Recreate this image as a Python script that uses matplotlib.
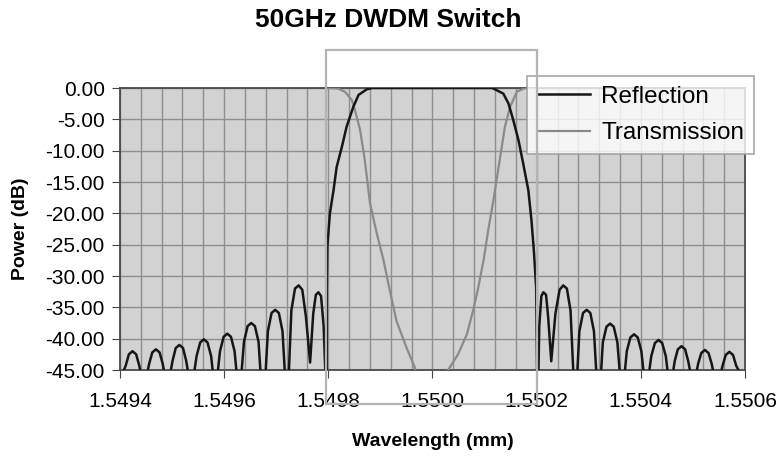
import numpy as np
import matplotlib
matplotlib.use('Agg')
import matplotlib.pyplot as plt
from matplotlib.patches import Rectangle
from matplotlib.ticker import MultipleLocator, FormatStrFormatter

plt.rcParams['font.family'] = ['Liberation Sans', 'DejaVu Sans']
plt.rcParams['axes.unicode_minus'] = False

# Reflection trace (wavelength, dB): left side lobes, passband, right side lobes
reflWave = [1.549400,
            1.549411, 1.549417, 1.549424, 1.549431, 1.549437, 1.549446,
            1.549456, 1.549462, 1.549469, 1.549476, 1.549482, 1.549491,
            1.549501, 1.549507, 1.549514, 1.549521, 1.549527, 1.549537,
            1.549547, 1.549554, 1.549561, 1.549568, 1.549575, 1.549583,
            1.549592, 1.549599, 1.549606, 1.549613, 1.549620, 1.549629,
            1.549638, 1.549645, 1.549652, 1.549659, 1.549666, 1.549675,
            1.549684, 1.549691, 1.549698, 1.549705, 1.549712, 1.549721,
            1.549729, 1.549736, 1.549743, 1.549750, 1.549757, 1.549765,
            1.549771, 1.549776, 1.549781, 1.549786, 1.549791, 1.549795,
            1.549797, 1.549797, 1.549798, 1.549803, 1.549810, 1.549816, 1.549826,
            1.549835, 1.549848, 1.549858, 1.549874, 1.549885,
            1.550115, 1.550136, 1.550146, 1.550155, 1.550165, 1.550174, 1.550184,
            1.550190, 1.550195, 1.550199, 1.550201, 1.550203,
            1.550205, 1.550209, 1.550213, 1.550218, 1.550222, 1.550228,
            1.550236, 1.550244, 1.550251, 1.550258, 1.550265, 1.550274,
            1.550282, 1.550289, 1.550296, 1.550303, 1.550310, 1.550319,
            1.550327, 1.550334, 1.550341, 1.550348, 1.550355, 1.550364,
            1.550373, 1.550380, 1.550387, 1.550394, 1.550401, 1.550410,
            1.550420, 1.550427, 1.550434, 1.550441, 1.550448, 1.550456,
            1.550465, 1.550471, 1.550478, 1.550485, 1.550491, 1.550501,
            1.550510, 1.550516, 1.550523, 1.550530, 1.550536, 1.550546,
            1.550557, 1.550563, 1.550570, 1.550577, 1.550583, 1.550600]
reflPower = [-46.5,
             -44.3, -42.5, -42.0, -42.5, -44.3, -48.0,
             -44.0, -42.2, -41.7, -42.2, -44.0, -48.0,
             -43.5, -41.5, -41.0, -41.5, -43.5, -48.5,
             -42.8, -40.6, -40.1, -40.6, -42.8, -49.0,
             -42.0, -39.7, -39.2, -39.7, -42.0, -50.0,
             -40.5, -38.0, -37.5, -38.0, -40.5, -52.0,
             -38.8, -35.9, -35.4, -35.9, -38.8, -52.0,
             -35.5, -32.0, -31.5, -32.2, -36.5, -43.8,
             -36.0, -33.0, -32.6, -33.2, -38.0, -47.0,
             -47.0, -32.0, -25.4, -20.0, -16.3, -12.6, -9.4,
             -6.2, -3.0, -1.1, -0.2, 0.0,
             0.0, -0.9, -2.5, -5.1, -8.3, -12.0, -16.3,
             -21.1, -26.4, -31.9, -47.0, -47.0,
             -38.0, -33.2, -32.6, -33.0, -36.5, -43.6,
             -36.0, -32.2, -31.5, -32.0, -35.5, -52.0,
             -38.8, -35.9, -35.4, -35.9, -38.8, -52.0,
             -40.6, -38.1, -37.6, -38.1, -40.6, -50.0,
             -42.0, -39.8, -39.3, -39.8, -42.0, -49.0,
             -42.8, -40.7, -40.2, -40.7, -42.8, -48.5,
             -43.6, -41.7, -41.2, -41.7, -43.6, -48.0,
             -44.0, -42.3, -41.8, -42.3, -44.0, -48.0,
             -44.3, -42.6, -42.1, -42.6, -44.3, -47.0]

# Transmission trace (wavelength, dB)
transWave = [1.549800, 1.549819, 1.549832, 1.549845, 1.549851, 1.549861, 1.549870,
             1.549880, 1.549893, 1.549906, 1.549918, 1.549931, 1.549950, 1.549966,
             1.549985, 1.550000, 1.550015, 1.550030, 1.550049, 1.550066, 1.550078,
             1.550088, 1.550098, 1.550107, 1.550117, 1.550123, 1.550133, 1.550139,
             1.550149, 1.550162, 1.550178, 1.550200]
transPower = [0.0, -0.1, -0.6, -1.9, -3.5, -6.7, -11.5,
              -18.4, -23.2, -27.5, -32.3, -37.2, -41.4, -44.6,
              -50.0, -55.0, -50.0, -45.0, -42.5, -39.3, -35.5,
              -31.8, -27.5, -22.7, -17.9, -14.7, -9.4, -6.2,
              -3.0, -0.6, 0.0, 0.0]

seriesNames = ['Reflection', 'Transmission']
xTicks = [1.5494, 1.5496, 1.5498, 1.5500, 1.5502, 1.5504, 1.5506]

W, H = 776, 461
fig = plt.figure(figsize=(W/100, H/100), dpi=100)
ax = fig.add_axes([120/W, 1-370/H, 625/W, 282/H])   # plot area in pixels
ax.set_facecolor('#d2d2d2')

ax.plot(reflWave, reflPower, color='#161616', lw=1.8, label=seriesNames[0], zorder=4)
ax.plot(transWave, transPower, color='#8a8a8a', lw=1.6, label=seriesNames[1], zorder=3)

ax.set_xlim(1.5494, 1.5506)
ax.set_ylim(-45, 0)
ax.set_xticks(xTicks)
ax.xaxis.set_minor_locator(MultipleLocator(0.00004))
ax.yaxis.set_major_locator(MultipleLocator(5))
ax.xaxis.set_major_formatter(FormatStrFormatter('%.4f'))
ax.yaxis.set_major_formatter(FormatStrFormatter('%.2f'))
ax.grid(True, which='both', color='#8e8e8e', lw=1.0)
ax.set_axisbelow(True)
ax.tick_params(which='major', length=6, color='#444444', labelsize=15)
ax.tick_params(axis='x', pad=10)
ax.tick_params(axis='y', pad=5)
ax.tick_params(which='minor', length=0)
for sp in ax.spines.values():
    sp.set_color('#4a4a4a')
    sp.set_linewidth(1.3)

ax.set_xlabel('Wavelength (mm)', fontsize=14, fontweight='bold', labelpad=16)
ax.set_ylabel('Power (dB)', fontsize=14, fontweight='bold', labelpad=12)
fig.text(0.5, 1-20/H, '50GHz DWDM Switch', ha='center', va='center',
         fontsize=19, fontweight='bold')

# light gray box around the passband (drawn over the whole figure)
fig.patches.append(Rectangle((326/W, 1-404/H), 211/W, 354/H, transform=fig.transFigure,
                             fill=False, edgecolor='#b4b4b4', lw=1.6, zorder=2))

leg = ax.legend(loc='upper left', bbox_to_anchor=(527/W, 1-76/H), bbox_transform=fig.transFigure,
                fontsize=17.5, frameon=True, fancybox=False, handlelength=2.2,
                borderpad=0.4, labelspacing=0.6, handletextpad=0.45, borderaxespad=0)
leg.get_frame().set_edgecolor('#9a9a9a')
leg.get_frame().set_linewidth(1.3)
leg.set_zorder(10)

fig.savefig('out.png', dpi=100)
